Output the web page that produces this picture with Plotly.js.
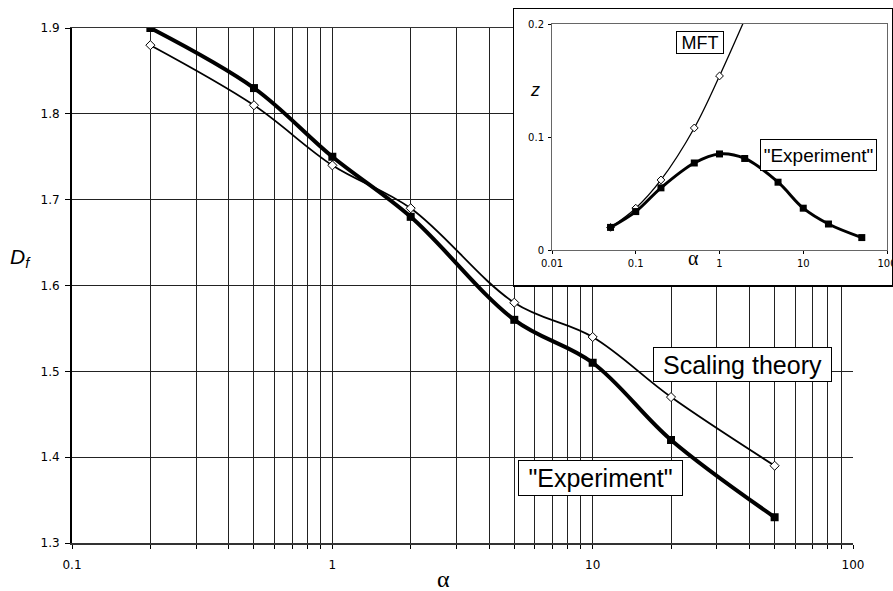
<!DOCTYPE html>
<html>
<head>
<meta charset="utf-8">
<script src="https://cdn.plot.ly/plotly-3.0.1.min.js"></script>
<style>html,body{margin:0;padding:0;background:#fff;}#chart{width:893px;height:591px;}</style>
</head>
<body>
<div id="chart"></div>
<script>
// ---- main chart data ----
const alphaMain = [0.2, 0.5, 1, 2, 5, 10, 20, 50];
const dfExperiment = [1.90, 1.83, 1.75, 1.68, 1.56, 1.51, 1.42, 1.33];
const dfScaling = [1.88, 1.81, 1.74, 1.69, 1.58, 1.54, 1.47, 1.39];

// ---- inset data ----
const alphaInsetExp = [0.05, 0.1, 0.2, 0.5, 1, 2, 5, 10, 20, 50];
const zExperiment = [0.020, 0.034, 0.055, 0.077, 0.085, 0.081, 0.060, 0.037, 0.023, 0.011];
const alphaInsetMft = [0.05, 0.1, 0.2, 0.5, 1, 2];
const zMft = [0.020, 0.037, 0.062, 0.108, 0.154, 0.204];

// ---- tick labels ----
const mainXTickVals = [0.1,0.2,0.3,0.4,0.5,0.6,0.7,0.8,0.9,1,2,3,4,5,6,7,8,9,10,20,30,40,50,60,70,80,90,100];
const mainXTickText = mainXTickVals.map(v => [0.1,1,10,100].includes(v) ? String(v) : '');
const mainYTickVals = [1.3,1.4,1.5,1.6,1.7,1.8,1.9];
const mainYTickText = ['1.3','1.4','1.5','1.6','1.7','1.8','1.9'];
const insetXTickVals = [0.01, 0.1, 1, 10, 100];
const insetXTickText = ['0.01', '0.1', '1', '10', '100'];
const insetYTickVals = [0, 0.1, 0.2];
const insetYTickText = ['0', '0.1', '0.2'];

const W = 893, H = 591;
const px = v => v / W;
const py = v => 1 - v / H;
const FONT = 'Liberation Sans, Arial, Helvetica, sans-serif';
const TICKFONT = 'DejaVu Sans, sans-serif';
const GREEK = 'Liberation Serif, serif';

const traces = [
  {x: alphaMain, y: dfScaling, xaxis: 'x', yaxis: 'y', mode: 'lines+markers',
   line: {color: '#000', width: 1.8, shape: 'spline'},
   marker: {symbol: 'diamond', size: 7, color: '#fff', line: {color: '#000', width: 1}}},
  {x: alphaMain, y: dfExperiment, xaxis: 'x', yaxis: 'y', mode: 'lines+markers',
   line: {color: '#000', width: 4, shape: 'spline'},
   marker: {symbol: 'square', size: 8, color: '#000'}},
  // frame subplot (empty)
  {x: [], y: [], xaxis: 'x2', yaxis: 'y2', mode: 'markers'},
  // inset
  {x: alphaInsetMft, y: zMft, xaxis: 'x3', yaxis: 'y3', mode: 'lines+markers',
   line: {color: '#000', width: 1.3, shape: 'spline'},
   marker: {symbol: 'diamond', size: 6, color: '#fff', line: {color: '#000', width: 1}}},
  {x: alphaInsetExp, y: zExperiment, xaxis: 'x3', yaxis: 'y3', mode: 'lines+markers',
   line: {color: '#000', width: 3, shape: 'spline'},
   marker: {symbol: 'square', size: 7, color: '#000'}}
];

const layout = {
  width: W, height: H,
  margin: {l: 0, r: 0, t: 0, b: 0},
  paper_bgcolor: '#fff', plot_bgcolor: '#fff',
  showlegend: false,
  font: {family: FONT, color: '#000'},
  xaxis: {
    type: 'log', domain: [px(72), px(853)], range: [-1, 2], anchor: 'y',
    tickvals: mainXTickVals, ticktext: mainXTickText,
    showgrid: true, gridcolor: '#222', gridwidth: 1,
    showline: true, linecolor: '#333', linewidth: 1.5, mirror: true,
    ticks: 'outside', ticklen: 4, tickcolor: '#000',
    tickfont: {size: 12, family: TICKFONT, color: '#000'}, ticklabelstandoff: 6,
    ticklabeloverflow: 'allow',
    zeroline: false, automargin: false
  },
  yaxis: {
    domain: [py(543), py(28)], range: [1.3, 1.9], anchor: 'x',
    tickvals: mainYTickVals, ticktext: mainYTickText,
    showgrid: true, gridcolor: '#222', gridwidth: 1,
    showline: true, linecolor: '#000', linewidth: 2, mirror: false,
    ticks: 'outside', ticklen: 5, tickcolor: '#000',
    tickfont: {size: 12, family: TICKFONT, color: '#000'}, ticklabelstandoff: 3,
    zeroline: false, automargin: false
  },
  xaxis2: {
    domain: [px(514), px(892)], range: [0, 1], anchor: 'y2',
    showgrid: false, zeroline: false, showticklabels: false, ticks: '',
    showline: true, linecolor: '#000', linewidth: 1.5, mirror: true, automargin: false
  },
  yaxis2: {
    domain: [py(285), py(9)], range: [0, 1], anchor: 'x2',
    showgrid: false, zeroline: false, showticklabels: false, ticks: '',
    showline: true, linecolor: '#000', linewidth: 1.5, mirror: true, automargin: false
  },
  xaxis3: {
    type: 'log', domain: [px(552), px(887)], range: [-2, 2], anchor: 'y3',
    tickvals: insetXTickVals, ticktext: insetXTickText,
    showgrid: false, zeroline: false,
    showline: true, linecolor: '#666', linewidth: 1, mirror: true,
    ticks: 'outside', ticklen: 3, tickcolor: '#000',
    tickfont: {size: 10, family: TICKFONT, color: '#000'}, ticklabelstandoff: 1,
    ticklabeloverflow: 'allow',
    automargin: false
  },
  yaxis3: {
    domain: [py(250), py(24)], range: [0, 0.2], anchor: 'x3',
    tickvals: insetYTickVals, ticktext: insetYTickText,
    showgrid: false, zeroline: false,
    showline: true, linecolor: '#666', linewidth: 1, mirror: true,
    ticks: 'outside', ticklen: 3, tickcolor: '#000',
    tickfont: {size: 10, family: TICKFONT, color: '#000'}, ticklabelstandoff: 2,
    automargin: false
  },
  annotations: [
    {xref: 'paper', yref: 'paper', x: px(20), y: py(258), text: '<i>D</i><sub><i>f</i></sub>',
     showarrow: false, font: {size: 21, family: FONT, color: '#000'}, xanchor: 'center', yanchor: 'middle'},
    {xref: 'paper', yref: 'paper', x: px(443), y: py(579), text: 'α',
     showarrow: false, font: {size: 24, family: GREEK, color: '#000'}, xanchor: 'center', yanchor: 'middle'},
    {xref: 'paper', yref: 'paper', x: px(742.5), y: py(364), text: 'Scaling theory',
     showarrow: false, font: {size: 25, family: FONT, color: '#000'}, xanchor: 'center', yanchor: 'middle',
     bgcolor: '#fff', bordercolor: '#000', borderwidth: 1, borderpad: 1, width: 175, height: 31},
    {xref: 'paper', yref: 'paper', x: px(600.5), y: py(477.5), text: '"Experiment"',
     showarrow: false, font: {size: 25, family: FONT, color: '#000'}, xanchor: 'center', yanchor: 'middle',
     bgcolor: '#fff', bordercolor: '#000', borderwidth: 1, borderpad: 1, width: 161, height: 32},
    {xref: 'paper', yref: 'paper', x: px(535), y: py(90), text: '<i>z</i>',
     showarrow: false, font: {size: 18, family: FONT, color: '#000'}, xanchor: 'center', yanchor: 'middle'},
    {xref: 'paper', yref: 'paper', x: px(693), y: py(258), text: 'α',
     showarrow: false, font: {size: 20, family: GREEK, color: '#000'}, xanchor: 'center', yanchor: 'middle'},
    {xref: 'paper', yref: 'paper', x: px(700), y: py(42.5), text: 'MFT',
     showarrow: false, font: {size: 18, family: FONT, color: '#000'}, xanchor: 'center', yanchor: 'middle',
     bgcolor: '#fff', bordercolor: '#000', borderwidth: 1, borderpad: 1, width: 44, height: 19},
    {xref: 'paper', yref: 'paper', x: px(818.7), y: py(154.5), text: '"Experiment"',
     showarrow: false, font: {size: 19, family: FONT, color: '#000'}, xanchor: 'center', yanchor: 'middle',
     bgcolor: '#fff', bordercolor: '#000', borderwidth: 1, borderpad: 1, width: 113, height: 28}
  ]
};

Plotly.newPlot('chart', traces, layout, {staticPlot: true, displayModeBar: false});
</script>
</body>
</html>
